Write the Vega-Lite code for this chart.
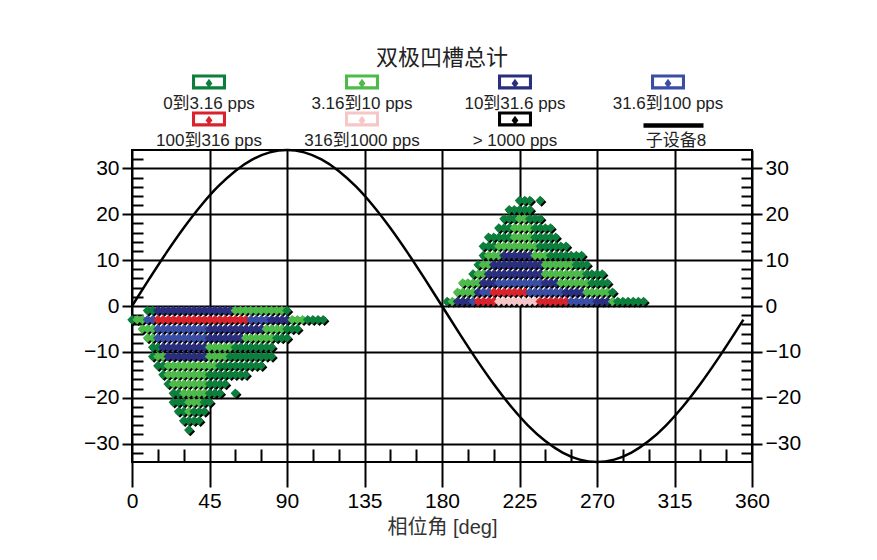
{
"$schema": "https://vega.github.io/schema/vega-lite/v6.json",
"width": 620, "height": 312,
"autosize": {"type": "none"},
"padding": {"left": 132, "top": 150, "right": 125, "bottom": 98},
"background": "white",
"title": {"text": "双极凹槽总计", "fontSize": 22, "fontWeight": "normal", "color": "#222", "font": "Noto Sans CJK SC", "offset": 17, "anchor": "middle"},
"datasets": {
"pts": [
{"x":183,"y":1,"c":"a"},{"x":186,"y":1,"c":"b"},{"x":189,"y":1,"c":"c"},{"x":192,"y":1,"c":"c"},{"x":195,"y":1,"c":"c"},{"x":198,"y":1,"c":"d"},{"x":201,"y":1,"c":"e"},{"x":204,"y":1,"c":"e"},{"x":207,"y":1,"c":"e"},{"x":210,"y":1,"c":"e"},{"x":213,"y":1,"c":"f"},{"x":216,"y":1,"c":"f"},{"x":219,"y":1,"c":"f"},{"x":222,"y":1,"c":"f"},{"x":225,"y":1,"c":"f"},{"x":228,"y":1,"c":"f"},{"x":231,"y":1,"c":"f"},{"x":234,"y":1,"c":"f"},{"x":237,"y":1,"c":"e"},{"x":240,"y":1,"c":"e"},{"x":243,"y":1,"c":"e"},{"x":246,"y":1,"c":"e"},{"x":249,"y":1,"c":"e"},{"x":252,"y":1,"c":"e"},{"x":255,"y":1,"c":"d"},{"x":258,"y":1,"c":"d"},{"x":261,"y":1,"c":"d"},{"x":264,"y":1,"c":"d"},{"x":267,"y":1,"c":"d"},{"x":270,"y":1,"c":"c"},{"x":273,"y":1,"c":"c"},{"x":276,"y":1,"c":"c"},{"x":279,"y":1,"c":"b"},{"x":282,"y":1,"c":"a"},{"x":285,"y":1,"c":"a"},{"x":288,"y":1,"c":"a"},{"x":291,"y":1,"c":"a"},{"x":294,"y":1,"c":"a"},{"x":297,"y":1,"c":"a"},
{"x":189,"y":3,"c":"b"},{"x":192,"y":3,"c":"b"},{"x":195,"y":3,"c":"b"},{"x":198,"y":3,"c":"b"},{"x":201,"y":3,"c":"c"},{"x":204,"y":3,"c":"d"},{"x":207,"y":3,"c":"d"},{"x":210,"y":3,"c":"e"},{"x":213,"y":3,"c":"e"},{"x":216,"y":3,"c":"e"},{"x":219,"y":3,"c":"e"},{"x":222,"y":3,"c":"e"},{"x":225,"y":3,"c":"e"},{"x":228,"y":3,"c":"e"},{"x":231,"y":3,"c":"d"},{"x":234,"y":3,"c":"d"},{"x":237,"y":3,"c":"d"},{"x":240,"y":3,"c":"d"},{"x":243,"y":3,"c":"d"},{"x":246,"y":3,"c":"d"},{"x":249,"y":3,"c":"d"},{"x":252,"y":3,"c":"c"},{"x":255,"y":3,"c":"c"},{"x":258,"y":3,"c":"c"},{"x":261,"y":3,"c":"c"},{"x":264,"y":3,"c":"b"},{"x":267,"y":3,"c":"b"},{"x":270,"y":3,"c":"b"},{"x":273,"y":3,"c":"b"},{"x":276,"y":3,"c":"b"},{"x":279,"y":3,"c":"a"},
{"x":192,"y":5,"c":"b"},{"x":195,"y":5,"c":"b"},{"x":198,"y":5,"c":"b"},{"x":201,"y":5,"c":"b"},{"x":204,"y":5,"c":"c"},{"x":207,"y":5,"c":"c"},{"x":210,"y":5,"c":"c"},{"x":213,"y":5,"c":"d"},{"x":216,"y":5,"c":"d"},{"x":219,"y":5,"c":"d"},{"x":222,"y":5,"c":"d"},{"x":225,"y":5,"c":"d"},{"x":228,"y":5,"c":"d"},{"x":231,"y":5,"c":"d"},{"x":234,"y":5,"c":"d"},{"x":237,"y":5,"c":"d"},{"x":240,"y":5,"c":"c"},{"x":243,"y":5,"c":"c"},{"x":246,"y":5,"c":"c"},{"x":249,"y":5,"c":"b"},{"x":252,"y":5,"c":"b"},{"x":255,"y":5,"c":"b"},{"x":258,"y":5,"c":"b"},{"x":261,"y":5,"c":"b"},{"x":264,"y":5,"c":"b"},{"x":267,"y":5,"c":"a"},{"x":270,"y":5,"c":"a"},{"x":273,"y":5,"c":"a"},{"x":276,"y":5,"c":"a"},
{"x":198,"y":7,"c":"a"},{"x":201,"y":7,"c":"b"},{"x":204,"y":7,"c":"b"},{"x":207,"y":7,"c":"c"},{"x":210,"y":7,"c":"c"},{"x":213,"y":7,"c":"c"},{"x":216,"y":7,"c":"c"},{"x":219,"y":7,"c":"c"},{"x":222,"y":7,"c":"c"},{"x":225,"y":7,"c":"c"},{"x":228,"y":7,"c":"c"},{"x":231,"y":7,"c":"c"},{"x":234,"y":7,"c":"c"},{"x":237,"y":7,"c":"c"},{"x":240,"y":7,"c":"b"},{"x":243,"y":7,"c":"b"},{"x":246,"y":7,"c":"b"},{"x":249,"y":7,"c":"b"},{"x":252,"y":7,"c":"b"},{"x":255,"y":7,"c":"b"},{"x":258,"y":7,"c":"b"},{"x":261,"y":7,"c":"b"},{"x":264,"y":7,"c":"a"},{"x":267,"y":7,"c":"a"},{"x":270,"y":7,"c":"a"},{"x":273,"y":7,"c":"a"},
{"x":201,"y":9,"c":"a"},{"x":204,"y":9,"c":"b"},{"x":207,"y":9,"c":"b"},{"x":210,"y":9,"c":"c"},{"x":213,"y":9,"c":"c"},{"x":216,"y":9,"c":"c"},{"x":219,"y":9,"c":"c"},{"x":222,"y":9,"c":"c"},{"x":225,"y":9,"c":"c"},{"x":228,"y":9,"c":"c"},{"x":231,"y":9,"c":"c"},{"x":234,"y":9,"c":"c"},{"x":237,"y":9,"c":"c"},{"x":240,"y":9,"c":"b"},{"x":243,"y":9,"c":"b"},{"x":246,"y":9,"c":"b"},{"x":249,"y":9,"c":"b"},{"x":252,"y":9,"c":"b"},{"x":255,"y":9,"c":"b"},{"x":258,"y":9,"c":"a"},{"x":261,"y":9,"c":"a"},{"x":264,"y":9,"c":"a"},
{"x":204,"y":11,"c":"a"},{"x":207,"y":11,"c":"b"},{"x":210,"y":11,"c":"b"},{"x":213,"y":11,"c":"b"},{"x":216,"y":11,"c":"c"},{"x":219,"y":11,"c":"c"},{"x":222,"y":11,"c":"c"},{"x":225,"y":11,"c":"c"},{"x":228,"y":11,"c":"c"},{"x":231,"y":11,"c":"c"},{"x":234,"y":11,"c":"b"},{"x":237,"y":11,"c":"b"},{"x":240,"y":11,"c":"b"},{"x":243,"y":11,"c":"a"},{"x":246,"y":11,"c":"a"},{"x":249,"y":11,"c":"a"},{"x":252,"y":11,"c":"a"},{"x":255,"y":11,"c":"a"},{"x":258,"y":11,"c":"a"},{"x":261,"y":11,"c":"a"},
{"x":204,"y":13,"c":"a"},{"x":207,"y":13,"c":"a"},{"x":210,"y":13,"c":"a"},{"x":213,"y":13,"c":"b"},{"x":216,"y":13,"c":"b"},{"x":219,"y":13,"c":"b"},{"x":222,"y":13,"c":"b"},{"x":225,"y":13,"c":"b"},{"x":228,"y":13,"c":"b"},{"x":231,"y":13,"c":"b"},{"x":234,"y":13,"c":"b"},{"x":237,"y":13,"c":"a"},{"x":240,"y":13,"c":"a"},{"x":243,"y":13,"c":"a"},{"x":246,"y":13,"c":"a"},{"x":249,"y":13,"c":"a"},{"x":252,"y":13,"c":"a"},
{"x":207,"y":15,"c":"a"},{"x":210,"y":15,"c":"a"},{"x":213,"y":15,"c":"a"},{"x":216,"y":15,"c":"a"},{"x":219,"y":15,"c":"a"},{"x":222,"y":15,"c":"b"},{"x":225,"y":15,"c":"b"},{"x":228,"y":15,"c":"b"},{"x":231,"y":15,"c":"b"},{"x":234,"y":15,"c":"a"},{"x":237,"y":15,"c":"a"},{"x":240,"y":15,"c":"a"},{"x":243,"y":15,"c":"a"},{"x":246,"y":15,"c":"a"},
{"x":213,"y":17,"c":"a"},{"x":216,"y":17,"c":"a"},{"x":219,"y":17,"c":"a"},{"x":222,"y":17,"c":"b"},{"x":225,"y":17,"c":"b"},{"x":228,"y":17,"c":"b"},{"x":231,"y":17,"c":"b"},{"x":234,"y":17,"c":"a"},{"x":237,"y":17,"c":"a"},{"x":240,"y":17,"c":"a"},{"x":243,"y":17,"c":"a"},
{"x":216,"y":19,"c":"a"},{"x":219,"y":19,"c":"a"},{"x":222,"y":19,"c":"a"},{"x":225,"y":19,"c":"b"},{"x":228,"y":19,"c":"b"},{"x":231,"y":19,"c":"a"},{"x":234,"y":19,"c":"a"},{"x":237,"y":19,"c":"a"},
{"x":219,"y":21,"c":"a"},{"x":222,"y":21,"c":"a"},{"x":225,"y":21,"c":"a"},{"x":228,"y":21,"c":"a"},{"x":231,"y":21,"c":"a"},
{"x":225,"y":23,"c":"a"},{"x":228,"y":23,"c":"a"},{"x":231,"y":23,"c":"a"},{"x":237,"y":23,"c":"a"},
{"x":9,"y":-1,"c":"a"},{"x":12,"y":-1,"c":"a"},{"x":15,"y":-1,"c":"c"},{"x":18,"y":-1,"c":"c"},{"x":21,"y":-1,"c":"c"},{"x":24,"y":-1,"c":"c"},{"x":27,"y":-1,"c":"c"},{"x":30,"y":-1,"c":"c"},{"x":33,"y":-1,"c":"c"},{"x":36,"y":-1,"c":"c"},{"x":39,"y":-1,"c":"c"},{"x":42,"y":-1,"c":"c"},{"x":45,"y":-1,"c":"c"},{"x":48,"y":-1,"c":"c"},{"x":51,"y":-1,"c":"c"},{"x":54,"y":-1,"c":"c"},{"x":57,"y":-1,"c":"c"},{"x":60,"y":-1,"c":"b"},{"x":63,"y":-1,"c":"b"},{"x":66,"y":-1,"c":"b"},{"x":69,"y":-1,"c":"b"},{"x":72,"y":-1,"c":"b"},{"x":75,"y":-1,"c":"b"},{"x":78,"y":-1,"c":"b"},{"x":81,"y":-1,"c":"b"},{"x":84,"y":-1,"c":"b"},{"x":87,"y":-1,"c":"b"},{"x":90,"y":-1,"c":"a"},
{"x":0,"y":-3,"c":"a"},{"x":3,"y":-3,"c":"b"},{"x":6,"y":-3,"c":"b"},{"x":9,"y":-3,"c":"d"},{"x":12,"y":-3,"c":"d"},{"x":15,"y":-3,"c":"e"},{"x":18,"y":-3,"c":"e"},{"x":21,"y":-3,"c":"e"},{"x":24,"y":-3,"c":"e"},{"x":27,"y":-3,"c":"e"},{"x":30,"y":-3,"c":"e"},{"x":33,"y":-3,"c":"e"},{"x":36,"y":-3,"c":"e"},{"x":39,"y":-3,"c":"e"},{"x":42,"y":-3,"c":"e"},{"x":45,"y":-3,"c":"e"},{"x":48,"y":-3,"c":"e"},{"x":51,"y":-3,"c":"e"},{"x":54,"y":-3,"c":"e"},{"x":57,"y":-3,"c":"e"},{"x":60,"y":-3,"c":"e"},{"x":63,"y":-3,"c":"e"},{"x":66,"y":-3,"c":"e"},{"x":69,"y":-3,"c":"d"},{"x":72,"y":-3,"c":"d"},{"x":75,"y":-3,"c":"d"},{"x":78,"y":-3,"c":"d"},{"x":81,"y":-3,"c":"c"},{"x":84,"y":-3,"c":"c"},{"x":87,"y":-3,"c":"c"},{"x":90,"y":-3,"c":"c"},{"x":93,"y":-3,"c":"b"},{"x":96,"y":-3,"c":"b"},{"x":99,"y":-3,"c":"b"},{"x":102,"y":-3,"c":"a"},{"x":105,"y":-3,"c":"a"},{"x":108,"y":-3,"c":"a"},{"x":111,"y":-3,"c":"a"},
{"x":6,"y":-5,"c":"b"},{"x":9,"y":-5,"c":"b"},{"x":12,"y":-5,"c":"b"},{"x":15,"y":-5,"c":"d"},{"x":18,"y":-5,"c":"d"},{"x":21,"y":-5,"c":"d"},{"x":24,"y":-5,"c":"d"},{"x":27,"y":-5,"c":"d"},{"x":30,"y":-5,"c":"d"},{"x":33,"y":-5,"c":"d"},{"x":36,"y":-5,"c":"d"},{"x":39,"y":-5,"c":"d"},{"x":42,"y":-5,"c":"d"},{"x":45,"y":-5,"c":"c"},{"x":48,"y":-5,"c":"c"},{"x":51,"y":-5,"c":"c"},{"x":54,"y":-5,"c":"c"},{"x":57,"y":-5,"c":"c"},{"x":60,"y":-5,"c":"c"},{"x":63,"y":-5,"c":"c"},{"x":66,"y":-5,"c":"c"},{"x":69,"y":-5,"c":"c"},{"x":72,"y":-5,"c":"c"},{"x":75,"y":-5,"c":"c"},{"x":78,"y":-5,"c":"b"},{"x":81,"y":-5,"c":"b"},{"x":84,"y":-5,"c":"b"},{"x":87,"y":-5,"c":"b"},{"x":90,"y":-5,"c":"a"},{"x":93,"y":-5,"c":"a"},{"x":96,"y":-5,"c":"a"},
{"x":9,"y":-7,"c":"b"},{"x":12,"y":-7,"c":"b"},{"x":15,"y":-7,"c":"d"},{"x":18,"y":-7,"c":"d"},{"x":21,"y":-7,"c":"d"},{"x":24,"y":-7,"c":"d"},{"x":27,"y":-7,"c":"d"},{"x":30,"y":-7,"c":"d"},{"x":33,"y":-7,"c":"d"},{"x":36,"y":-7,"c":"d"},{"x":39,"y":-7,"c":"d"},{"x":42,"y":-7,"c":"d"},{"x":45,"y":-7,"c":"c"},{"x":48,"y":-7,"c":"c"},{"x":51,"y":-7,"c":"c"},{"x":54,"y":-7,"c":"c"},{"x":57,"y":-7,"c":"c"},{"x":60,"y":-7,"c":"c"},{"x":63,"y":-7,"c":"c"},{"x":66,"y":-7,"c":"b"},{"x":69,"y":-7,"c":"b"},{"x":72,"y":-7,"c":"b"},{"x":75,"y":-7,"c":"b"},{"x":78,"y":-7,"c":"b"},{"x":81,"y":-7,"c":"b"},{"x":84,"y":-7,"c":"a"},{"x":87,"y":-7,"c":"a"},{"x":90,"y":-7,"c":"a"},
{"x":12,"y":-9,"c":"a"},{"x":15,"y":-9,"c":"a"},{"x":18,"y":-9,"c":"c"},{"x":21,"y":-9,"c":"c"},{"x":24,"y":-9,"c":"c"},{"x":27,"y":-9,"c":"c"},{"x":30,"y":-9,"c":"c"},{"x":33,"y":-9,"c":"c"},{"x":36,"y":-9,"c":"c"},{"x":39,"y":-9,"c":"c"},{"x":42,"y":-9,"c":"c"},{"x":45,"y":-9,"c":"b"},{"x":48,"y":-9,"c":"b"},{"x":51,"y":-9,"c":"b"},{"x":54,"y":-9,"c":"b"},{"x":57,"y":-9,"c":"b"},{"x":60,"y":-9,"c":"a"},{"x":63,"y":-9,"c":"a"},{"x":66,"y":-9,"c":"a"},{"x":69,"y":-9,"c":"a"},{"x":72,"y":-9,"c":"a"},{"x":75,"y":-9,"c":"a"},{"x":78,"y":-9,"c":"a"},{"x":81,"y":-9,"c":"a"},
{"x":12,"y":-11,"c":"a"},{"x":15,"y":-11,"c":"b"},{"x":18,"y":-11,"c":"b"},{"x":21,"y":-11,"c":"c"},{"x":24,"y":-11,"c":"c"},{"x":27,"y":-11,"c":"c"},{"x":30,"y":-11,"c":"c"},{"x":33,"y":-11,"c":"c"},{"x":36,"y":-11,"c":"c"},{"x":39,"y":-11,"c":"c"},{"x":42,"y":-11,"c":"c"},{"x":45,"y":-11,"c":"b"},{"x":48,"y":-11,"c":"b"},{"x":51,"y":-11,"c":"b"},{"x":54,"y":-11,"c":"b"},{"x":57,"y":-11,"c":"a"},{"x":60,"y":-11,"c":"a"},{"x":63,"y":-11,"c":"a"},{"x":66,"y":-11,"c":"a"},{"x":69,"y":-11,"c":"a"},{"x":72,"y":-11,"c":"a"},{"x":75,"y":-11,"c":"a"},{"x":78,"y":-11,"c":"a"},{"x":81,"y":-11,"c":"a"},
{"x":15,"y":-13,"c":"a"},{"x":18,"y":-13,"c":"a"},{"x":21,"y":-13,"c":"b"},{"x":24,"y":-13,"c":"b"},{"x":27,"y":-13,"c":"b"},{"x":30,"y":-13,"c":"b"},{"x":33,"y":-13,"c":"b"},{"x":36,"y":-13,"c":"b"},{"x":39,"y":-13,"c":"b"},{"x":42,"y":-13,"c":"b"},{"x":45,"y":-13,"c":"b"},{"x":48,"y":-13,"c":"b"},{"x":51,"y":-13,"c":"a"},{"x":54,"y":-13,"c":"a"},{"x":57,"y":-13,"c":"a"},{"x":60,"y":-13,"c":"a"},{"x":63,"y":-13,"c":"a"},{"x":66,"y":-13,"c":"a"},{"x":69,"y":-13,"c":"a"},{"x":72,"y":-13,"c":"a"},{"x":75,"y":-13,"c":"a"},
{"x":18,"y":-15,"c":"a"},{"x":21,"y":-15,"c":"b"},{"x":24,"y":-15,"c":"b"},{"x":27,"y":-15,"c":"b"},{"x":30,"y":-15,"c":"b"},{"x":33,"y":-15,"c":"b"},{"x":36,"y":-15,"c":"b"},{"x":39,"y":-15,"c":"b"},{"x":42,"y":-15,"c":"b"},{"x":45,"y":-15,"c":"a"},{"x":48,"y":-15,"c":"a"},{"x":51,"y":-15,"c":"a"},{"x":54,"y":-15,"c":"a"},{"x":57,"y":-15,"c":"a"},{"x":60,"y":-15,"c":"a"},{"x":63,"y":-15,"c":"a"},{"x":66,"y":-15,"c":"a"},
{"x":21,"y":-17,"c":"a"},{"x":24,"y":-17,"c":"b"},{"x":27,"y":-17,"c":"b"},{"x":30,"y":-17,"c":"b"},{"x":33,"y":-17,"c":"b"},{"x":36,"y":-17,"c":"b"},{"x":39,"y":-17,"c":"b"},{"x":42,"y":-17,"c":"b"},{"x":45,"y":-17,"c":"a"},{"x":48,"y":-17,"c":"a"},{"x":51,"y":-17,"c":"a"},{"x":54,"y":-17,"c":"a"},
{"x":24,"y":-19,"c":"a"},{"x":27,"y":-19,"c":"a"},{"x":30,"y":-19,"c":"b"},{"x":33,"y":-19,"c":"b"},{"x":36,"y":-19,"c":"b"},{"x":39,"y":-19,"c":"b"},{"x":42,"y":-19,"c":"b"},{"x":45,"y":-19,"c":"a"},{"x":48,"y":-19,"c":"a"},{"x":51,"y":-19,"c":"a"},{"x":60,"y":-19,"c":"a"},
{"x":24,"y":-21,"c":"a"},{"x":27,"y":-21,"c":"a"},{"x":30,"y":-21,"c":"a"},{"x":33,"y":-21,"c":"b"},{"x":36,"y":-21,"c":"b"},{"x":39,"y":-21,"c":"b"},{"x":42,"y":-21,"c":"a"},{"x":45,"y":-21,"c":"a"},
{"x":27,"y":-23,"c":"a"},{"x":30,"y":-23,"c":"a"},{"x":33,"y":-23,"c":"b"},{"x":36,"y":-23,"c":"a"},{"x":39,"y":-23,"c":"a"},{"x":42,"y":-23,"c":"a"},
{"x":30,"y":-25,"c":"a"},{"x":33,"y":-25,"c":"a"},{"x":36,"y":-25,"c":"a"},{"x":39,"y":-25,"c":"a"},
{"x":33,"y":-27,"c":"a"}
],
"sine": [
{"x":0,"y":0,"c":"h"},{"x":10,"y":5.9,"c":"h"},{"x":20,"y":11.63,"c":"h"},{"x":30,"y":17,"c":"h"},{"x":40,"y":21.85,"c":"h"},{"x":50,"y":26.05,"c":"h"},{"x":60,"y":29.44,"c":"h"},{"x":70,"y":31.95,"c":"h"},{"x":80,"y":33.48,"c":"h"},{"x":90,"y":34,"c":"h"},{"x":100,"y":33.48,"c":"h"},{"x":110,"y":31.95,"c":"h"},{"x":120,"y":29.44,"c":"h"},{"x":130,"y":26.05,"c":"h"},{"x":140,"y":21.85,"c":"h"},{"x":150,"y":17,"c":"h"},{"x":160,"y":11.63,"c":"h"},{"x":170,"y":5.9,"c":"h"},{"x":180,"y":0,"c":"h"},{"x":190,"y":-5.9,"c":"h"},{"x":200,"y":-11.63,"c":"h"},{"x":210,"y":-17,"c":"h"},{"x":220,"y":-21.85,"c":"h"},{"x":230,"y":-26.05,"c":"h"},{"x":240,"y":-29.44,"c":"h"},{"x":250,"y":-31.95,"c":"h"},{"x":260,"y":-33.48,"c":"h"},{"x":270,"y":-34,"c":"h"},{"x":280,"y":-33.48,"c":"h"},{"x":290,"y":-31.95,"c":"h"},{"x":300,"y":-29.44,"c":"h"},{"x":310,"y":-26.05,"c":"h"},{"x":320,"y":-21.85,"c":"h"},{"x":330,"y":-17,"c":"h"},{"x":340,"y":-11.63,"c":"h"},{"x":350,"y":-5.9,"c":"h"},{"x":355,"y":-2.96,"c":"h"}
]
},
"layer": [
{
"data": {"name": "pts"},
"mark": {"type": "point", "shape": "diamond", "filled": true, "color": "black", "size": 90, "opacity": 1, "xOffset": 1.5, "yOffset": 1.5},
"encoding": {
"x": {"field": "x", "type": "quantitative", "scale": {"domain": [0, 360], "nice": false, "zero": false},
"axis": {"orient": "bottom", "values": [0,45,90,135,180,225,270,315,360], "grid": true, "gridColor": "black", "gridWidth": 2, "gridOpacity": 1, "domain": false, "tickColor": "black", "tickWidth": 2, "tickSize": 25, "labelFontSize": 21, "labelColor": "black", "labelPadding": 3, "labelFlush": false, "labelOverlap": false, "title": "相位角 [deg]", "titleFontSize": 20, "titleFontWeight": "normal", "titleColor": "#333", "titlePadding": 6}},
"y": {"field": "y", "type": "quantitative", "scale": {"domain": [-34, 34], "nice": false, "zero": false},
"axis": {"orient": "left", "values": [-30,-20,-10,0,10,20,30], "grid": true, "gridColor": "black", "gridWidth": 2, "gridOpacity": 1, "domain": false, "tickColor": "black", "tickWidth": 2, "tickSize": 10, "labelFontSize": 21, "labelColor": "black", "labelPadding": 3, "labelFlush": false, "labelOverlap": false, "title": null}}
}
},
{
"data": {"name": "pts"},
"mark": {"type": "point", "shape": "diamond", "filled": true, "size": 90, "opacity": 1},
"encoding": {
"x": {"field": "x", "type": "quantitative",
"axis": {"orient": "bottom", "values": [15,30,60,75,105,120,150,165,195,210,240,255,285,300,330,345], "grid": false, "domain": false, "labels": false, "tickColor": "black", "tickWidth": 2, "tickSize": -13, "title": null}},
"y": {"field": "y", "type": "quantitative",
"axis": {"orient": "left", "values": [-32,-28,-26,-24,-22,-18,-16,-14,-12,-8,-6,-4,-2,2,4,6,8,12,14,16,18,22,24,26,28,32], "grid": false, "domain": false, "labels": false, "tickColor": "black", "tickWidth": 2, "tickSize": -11, "title": null}},
"color": {"field": "c", "type": "nominal",
"scale": {"domain": ["a","b","c","d","e","f","g"], "range": ["#0b7f3b","#4dbb4a","#2a2e7e","#3a4ea6","#d9222c","#f7c6c6","#000000"]},
"legend": {"title": null, "orient": "none", "legendX": 60, "legendY": -63, "direction": "horizontal", "columns": 4, "gridAlign": "all", "columnPadding": 37, "rowPadding": -1, "padding": 0,
"symbolType": "M-1,-1.74H1V-0.86H-1Z M-0.82,-1.56V-1.04H0.82V-1.56Z M0,-1.48L0.2,-1.2L0,-0.95L-0.2,-1.2Z",
"symbolSize": 1156, "symbolStrokeWidth": 0, "symbolOpacity": 1, "labelFontSize": 17, "labelColor": "#222", "labelAlign": "center", "labelOffset": -17, "labelLimit": 300,
"labelExpr": "datum.label=='a'?'0到3.16 pps':datum.label=='b'?'3.16到10 pps':datum.label=='c'?'10到31.6 pps':datum.label=='d'?'31.6到100 pps':datum.label=='e'?'100到316 pps':datum.label=='f'?'316到1000 pps':'> 1000 pps'"
}}
}
},
{
"data": {"name": "sine"},
"mark": {"type": "line", "strokeWidth": 2.5, "interpolate": "monotone"},
"encoding": {
"x": {"field": "x", "type": "quantitative", "axis": null},
"y": {"field": "y", "type": "quantitative",
"axis": {"orient": "right", "values": [-30,-20,-10,0,10,20,30], "grid": false, "domain": false, "tickColor": "black", "tickWidth": 2, "tickSize": 10, "labelFontSize": 21, "labelColor": "black", "labelPadding": 3, "labelFlush": false, "labelOverlap": false, "title": null}},
"color": {"field": "c", "type": "nominal",
"scale": {"domain": ["h"], "range": ["#000000"]},
"legend": {"title": null, "orient": "none", "legendX": 509, "legendY": -42, "padding": 0,
"symbolType": "M-1,-0.5H1", "symbolSize": 3600, "symbolStrokeWidth": 4.5, "symbolStrokeColor": "black", "symbolOpacity": 1,
"labelFontSize": 17, "labelColor": "#222", "labelAlign": "center", "labelOffset": -30, "labelLimit": 300,
"labelExpr": "'子设备8'"}}
}
},
{
"data": {"name": "sine"},
"mark": {"type": "line", "strokeWidth": 1, "opacity": 0, "color": "black"},
"encoding": {
"x": {"field": "x", "type": "quantitative", "axis": null},
"y": {"field": "y", "type": "quantitative",
"axis": {"orient": "right", "values": [-32,-28,-26,-24,-22,-18,-16,-14,-12,-8,-6,-4,-2,2,4,6,8,12,14,16,18,22,24,26,28,32], "grid": false, "domain": false, "labels": false, "tickColor": "black", "tickWidth": 2, "tickSize": -11, "title": null}}
}
}
],
"resolve": {"axis": {"x": "independent", "y": "independent"}, "scale": {"color": "independent"}},
"config": {
"font": "Liberation Sans, Noto Sans CJK SC",
"view": {"stroke": "black", "strokeWidth": 2}
}
}
